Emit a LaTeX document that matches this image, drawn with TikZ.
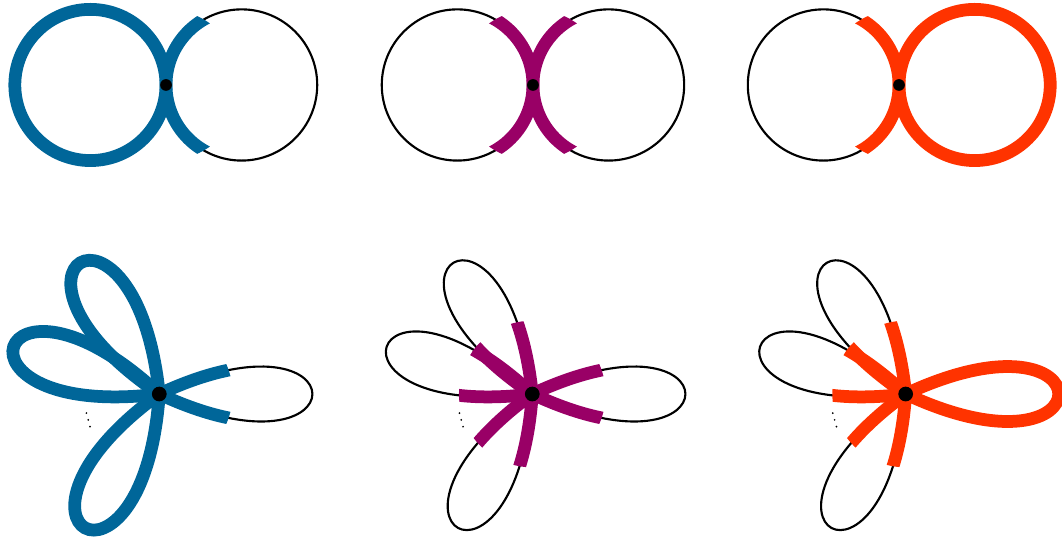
\documentclass[tikz,border=0pt]{standalone}
\usepackage{tikz}
\definecolor{cblue}{RGB}{0,102,153}
\definecolor{cmag}{RGB}{153,0,102}
\definecolor{cred}{RGB}{255,51,0}

\begin{document}
\begin{tikzpicture}[edge/.style={line width=0.8pt},
  fat/.style={line width=4.8pt},
  vtx/.style={circle,fill=black,inner sep=0pt,minimum size=#1},
  vtx/.default=0.155cm]
\useasboundingbox (0,0) rectangle (14.048,7.143);
% top row: two circles through one vertex
\draw[edge] (3.196,6.019) circle (1);
\draw[fat,cblue] (1.196,6.019) circle (1);
\begin{scope}
\clip (2.196,6.019) circle (1);
\draw[fat,cblue] (3.196,6.019) circle (1);
\end{scope}
\node[vtx] (t1) at (2.196,6.019) {};

\draw[edge] (6.050,6.019) circle (1);
\draw[edge] (8.050,6.019) circle (1);
\begin{scope}
\clip (7.050,6.019) circle (1);
\draw[fat,cmag] (6.050,6.019) circle (1);
\draw[fat,cmag] (8.050,6.019) circle (1);
\end{scope}
\node[vtx] (t2) at (7.050,6.019) {};

\draw[edge] (10.892,6.019) circle (1);
\draw[fat,cred] (12.892,6.019) circle (1);
\begin{scope}
\clip (11.892,6.019) circle (1);
\draw[fat,cred] (10.892,6.019) circle (1);
\end{scope}
\node[vtx] (t3) at (11.892,6.019) {};

% bottom row: flowers
\begin{scope}[shift={(2.107,1.931)}]
\draw[edge] (0,0) .. controls (25:2.98) and (-25:2.98) .. (0,0);
\draw[fat,cblue] (0,0) .. controls (146:2.98) and (96:2.98) .. (0,0);
\draw[fat,cblue] (0,0) .. controls (187:2.98) and (137:2.98) .. (0,0);
\draw[fat,cblue] (0,0) .. controls (266:2.98) and (216:2.98) .. (0,0);
\begin{scope}
\clip (0,0) circle (0.97);
\draw[fat,cblue] (0,0) .. controls (25:2.98) and (-25:2.98) .. (0,0);
\end{scope}
\foreach \k in {-1,0,1}
  \fill (200:1) ++(105:{0.093*\k}) circle (0.013);
\node[vtx=0.195cm] (b1) at (0,0) {};
\end{scope}

\begin{scope}[shift={(7.041,1.931)}]
\draw[edge] (0,0) .. controls (25:2.98) and (-25:2.98) .. (0,0);
\draw[edge] (0,0) .. controls (146:2.98) and (96:2.98) .. (0,0);
\draw[edge] (0,0) .. controls (187:2.98) and (137:2.98) .. (0,0);
\draw[edge] (0,0) .. controls (266:2.98) and (216:2.98) .. (0,0);
\begin{scope}
\clip (0,0) circle (0.97);
\draw[fat,cmag] (0,0) .. controls (25:2.98) and (-25:2.98) .. (0,0);
\draw[fat,cmag] (0,0) .. controls (146:2.98) and (96:2.98) .. (0,0);
\draw[fat,cmag] (0,0) .. controls (187:2.98) and (137:2.98) .. (0,0);
\draw[fat,cmag] (0,0) .. controls (266:2.98) and (216:2.98) .. (0,0);
\end{scope}
\foreach \k in {-1,0,1}
  \fill (200:1) ++(105:{0.093*\k}) circle (0.013);
\node[vtx=0.195cm] (b2) at (0,0) {};
\end{scope}

\begin{scope}[shift={(11.980,1.931)}]
\draw[edge] (0,0) .. controls (146:2.98) and (96:2.98) .. (0,0);
\draw[edge] (0,0) .. controls (187:2.98) and (137:2.98) .. (0,0);
\draw[edge] (0,0) .. controls (266:2.98) and (216:2.98) .. (0,0);
\draw[fat,cred] (0,0) .. controls (25:2.98) and (-25:2.98) .. (0,0);
\begin{scope}
\clip (0,0) circle (0.97);
\draw[fat,cred] (0,0) .. controls (146:2.98) and (96:2.98) .. (0,0);
\draw[fat,cred] (0,0) .. controls (187:2.98) and (137:2.98) .. (0,0);
\draw[fat,cred] (0,0) .. controls (266:2.98) and (216:2.98) .. (0,0);
\end{scope}
\foreach \k in {-1,0,1}
  \fill (200:1) ++(105:{0.093*\k}) circle (0.013);
\node[vtx=0.195cm] (b3) at (0,0) {};
\end{scope}
\end{tikzpicture}
\end{document}
